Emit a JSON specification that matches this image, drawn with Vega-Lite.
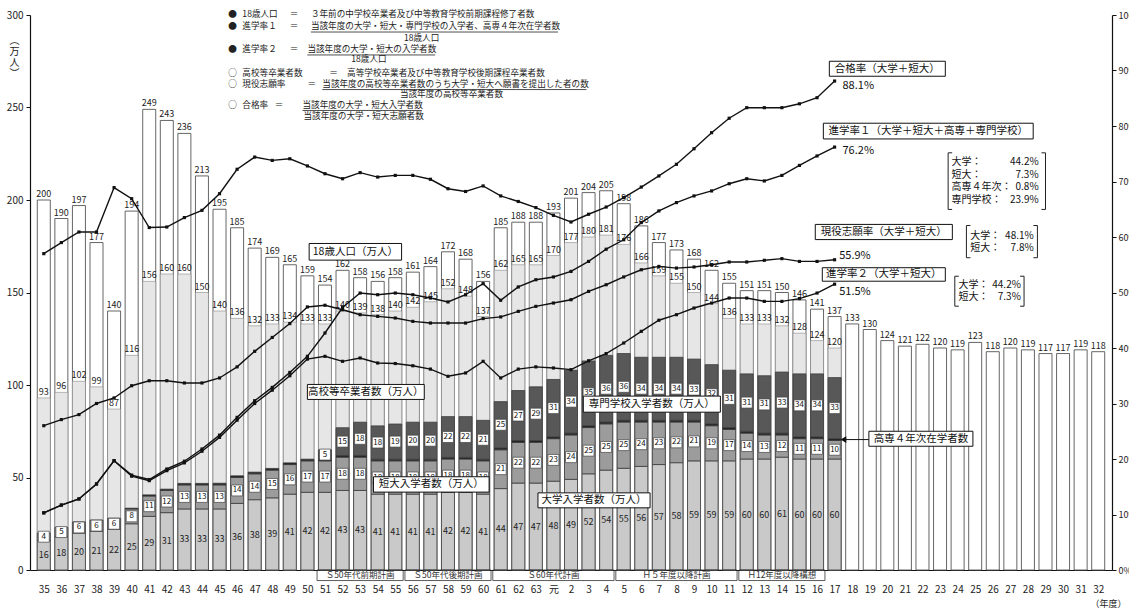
{
"$schema":"https://vega.github.io/schema/vega-lite/v6.json",
"width":1082,"height":555,
"autosize":{"type":"none"},
"padding":{"left":30,"top":15,"right":17,"bottom":38},
"background":"white",
"config":{"font":"Noto Sans CJK JP","view":{"stroke":null},"axis":{"grid":false,"domainColor":"#111","tickColor":"#111","labelColor":"#222","labelFont":"Noto Sans CJK JP","titleFont":"Noto Sans CJK JP","titleColor":"#222"},"text":{"font":"Noto Sans CJK JP"}},
"datasets":{
"main":[
{"year":1960,"pop":200,"hs":93,"bachelor":16,"junior":4,"kosen":0},
{"year":1961,"pop":190,"hs":96,"bachelor":18,"junior":5,"kosen":0},
{"year":1962,"pop":197,"hs":102,"bachelor":20,"junior":6,"kosen":0},
{"year":1963,"pop":177,"hs":99,"bachelor":21,"junior":6,"kosen":0},
{"year":1964,"pop":140,"hs":87,"bachelor":22,"junior":6,"kosen":0},
{"year":1965,"pop":194,"hs":116,"bachelor":25,"junior":8,"kosen":0.4},
{"year":1966,"pop":249,"hs":156,"bachelor":29,"junior":11,"kosen":0.6},
{"year":1967,"pop":243,"hs":160,"bachelor":31,"junior":12,"kosen":0.7},
{"year":1968,"pop":236,"hs":160,"bachelor":33,"junior":13,"kosen":0.8},
{"year":1969,"pop":213,"hs":150,"bachelor":33,"junior":13,"kosen":0.8},
{"year":1970,"pop":195,"hs":140,"bachelor":33,"junior":13,"kosen":0.9},
{"year":1971,"pop":185,"hs":136,"bachelor":36,"junior":14,"kosen":0.9},
{"year":1972,"pop":174,"hs":132,"bachelor":38,"junior":14,"kosen":0.9},
{"year":1973,"pop":169,"hs":133,"bachelor":39,"junior":15,"kosen":0.9},
{"year":1974,"pop":165,"hs":134,"bachelor":41,"junior":16,"kosen":0.9},
{"year":1975,"pop":159,"hs":133,"bachelor":42,"junior":17,"kosen":0.9},
{"year":1976,"pop":154,"hs":133,"bachelor":42,"junior":17,"kosen":0.9,"senmon":5},
{"year":1977,"pop":162,"hs":140,"bachelor":43,"junior":18,"kosen":0.9,"senmon":15},
{"year":1978,"pop":158,"hs":139,"bachelor":43,"junior":18,"kosen":0.9,"senmon":18},
{"year":1979,"pop":156,"hs":138,"bachelor":41,"junior":18,"kosen":0.9,"senmon":18},
{"year":1980,"pop":158,"hs":140,"bachelor":41,"junior":18,"kosen":0.9,"senmon":19},
{"year":1981,"pop":161,"hs":142,"bachelor":41,"junior":18,"kosen":0.9,"senmon":20},
{"year":1982,"pop":164,"hs":145,"bachelor":41,"junior":18,"kosen":0.9,"senmon":20},
{"year":1983,"pop":172,"hs":152,"bachelor":42,"junior":18,"kosen":0.9,"senmon":22},
{"year":1984,"pop":168,"hs":148,"bachelor":42,"junior":18,"kosen":0.9,"senmon":22},
{"year":1985,"pop":156,"hs":137,"bachelor":41,"junior":18,"kosen":0.9,"senmon":21},
{"year":1986,"pop":185,"hs":162,"bachelor":44,"junior":21,"kosen":1,"senmon":25},
{"year":1987,"pop":188,"hs":165,"bachelor":47,"junior":22,"kosen":1,"senmon":27},
{"year":1988,"pop":188,"hs":165,"bachelor":47,"junior":22,"kosen":1,"senmon":29},
{"year":1989,"pop":193,"hs":170,"bachelor":48,"junior":23,"kosen":1,"senmon":31},
{"year":1990,"pop":201,"hs":177,"bachelor":49,"junior":24,"kosen":1,"senmon":34},
{"year":1991,"pop":204,"hs":180,"bachelor":52,"junior":25,"kosen":1,"senmon":35},
{"year":1992,"pop":205,"hs":181,"bachelor":54,"junior":25,"kosen":1,"senmon":36},
{"year":1993,"pop":198,"hs":176,"bachelor":55,"junior":25,"kosen":1,"senmon":36},
{"year":1994,"pop":186,"hs":166,"bachelor":56,"junior":24,"kosen":1,"senmon":34},
{"year":1995,"pop":177,"hs":159,"bachelor":57,"junior":23,"kosen":1,"senmon":34},
{"year":1996,"pop":173,"hs":155,"bachelor":58,"junior":22,"kosen":1,"senmon":34},
{"year":1997,"pop":168,"hs":150,"bachelor":59,"junior":21,"kosen":1,"senmon":33},
{"year":1998,"pop":162,"hs":144,"bachelor":59,"junior":19,"kosen":1,"senmon":32},
{"year":1999,"pop":155,"hs":136,"bachelor":59,"junior":17,"kosen":1,"senmon":31},
{"year":2000,"pop":151,"hs":133,"bachelor":60,"junior":14,"kosen":1,"senmon":31},
{"year":2001,"pop":151,"hs":133,"bachelor":60,"junior":13,"kosen":1,"senmon":31},
{"year":2002,"pop":150,"hs":132,"bachelor":61,"junior":12,"kosen":1,"senmon":33},
{"year":2003,"pop":146,"hs":128,"bachelor":60,"junior":11,"kosen":1,"senmon":34},
{"year":2004,"pop":141,"hs":124,"bachelor":60,"junior":11,"kosen":1,"senmon":34},
{"year":2005,"pop":137,"hs":120,"bachelor":60,"junior":10,"kosen":1,"senmon":33},
{"year":2006,"pop":133},{"year":2007,"pop":130},{"year":2008,"pop":124},{"year":2009,"pop":121},{"year":2010,"pop":122},
{"year":2011,"pop":120},{"year":2012,"pop":119},{"year":2013,"pop":123},{"year":2014,"pop":118},{"year":2015,"pop":120},
{"year":2016,"pop":119},{"year":2017,"pop":117},{"year":2018,"pop":117},{"year":2019,"pop":119},{"year":2020,"pop":118}
],
"rates":[
{"year":1960,"goukaku":57.0,"shingaku1":10.3,"shigan":26.0,"shingaku2":10.3},
{"year":1961,"goukaku":59.0,"shingaku1":11.7,"shigan":27.1,"shingaku2":11.7},
{"year":1962,"goukaku":60.9,"shingaku1":12.8,"shigan":28.0,"shingaku2":12.8},
{"year":1963,"goukaku":60.9,"shingaku1":15.5,"shigan":30.0,"shingaku2":15.5},
{"year":1964,"goukaku":68.9,"shingaku1":19.7,"shigan":31.0,"shingaku2":19.7},
{"year":1965,"goukaku":66.9,"shingaku1":17.1,"shigan":33.2,"shingaku2":16.9},
{"year":1966,"goukaku":61.7,"shingaku1":16.3,"shigan":34.1,"shingaku2":16.1},
{"year":1967,"goukaku":61.8,"shingaku1":18.2,"shigan":34.1,"shingaku2":17.9},
{"year":1968,"goukaku":63.5,"shingaku1":19.6,"shigan":33.7,"shingaku2":19.3},
{"year":1969,"goukaku":64.8,"shingaku1":21.8,"shigan":33.7,"shingaku2":21.4},
{"year":1970,"goukaku":67.8,"shingaku1":24.3,"shigan":34.6,"shingaku2":23.9},
{"year":1971,"goukaku":72.2,"shingaku1":27.5,"shigan":36.6,"shingaku2":27.0},
{"year":1972,"goukaku":74.4,"shingaku1":30.5,"shigan":39.4,"shingaku2":30.0},
{"year":1973,"goukaku":73.8,"shingaku1":32.9,"shigan":41.9,"shingaku2":32.4},
{"year":1974,"goukaku":74.1,"shingaku1":35.6,"shigan":44.4,"shingaku2":35.0},
{"year":1975,"goukaku":72.8,"shingaku1":38.5,"shigan":47.4,"shingaku2":38.0},
{"year":1976,"goukaku":71.4,"shingaku1":42.7,"shigan":47.7,"shingaku2":38.5},
{"year":1977,"goukaku":70.5,"shingaku1":47.3,"shigan":46.9,"shingaku2":37.6},
{"year":1978,"goukaku":71.6,"shingaku1":49.9,"shigan":46.0,"shingaku2":38.2},
{"year":1979,"goukaku":70.8,"shingaku1":49.6,"shigan":45.7,"shingaku2":37.3},
{"year":1980,"goukaku":71.1,"shingaku1":49.9,"shigan":45.4,"shingaku2":37.2},
{"year":1981,"goukaku":71.1,"shingaku1":49.6,"shigan":44.8,"shingaku2":36.8},
{"year":1982,"goukaku":70.4,"shingaku1":49.0,"shigan":44.5,"shingaku2":36.2},
{"year":1983,"goukaku":68.7,"shingaku1":48.3,"shigan":44.5,"shingaku2":34.9},
{"year":1984,"goukaku":68.2,"shingaku1":49.6,"shigan":44.5,"shingaku2":35.5},
{"year":1985,"goukaku":69.2,"shingaku1":51.6,"shigan":45.3,"shingaku2":37.6},
{"year":1986,"goukaku":67.4,"shingaku1":48.6,"shigan":45.6,"shingaku2":34.6},
{"year":1987,"goukaku":66.4,"shingaku1":51.0,"shigan":46.6,"shingaku2":36.2},
{"year":1988,"goukaku":65.3,"shingaku1":52.3,"shigan":47.5,"shingaku2":36.6},
{"year":1989,"goukaku":63.9,"shingaku1":52.8,"shigan":48.1,"shingaku2":36.4},
{"year":1990,"goukaku":62.7,"shingaku1":53.8,"shigan":48.7,"shingaku2":36.1},
{"year":1991,"goukaku":64.1,"shingaku1":55.6,"shigan":50.2,"shingaku2":37.7},
{"year":1992,"goukaku":65.4,"shingaku1":57.8,"shigan":51.4,"shingaku2":39.0},
{"year":1993,"goukaku":67.1,"shingaku1":59.5,"shigan":52.8,"shingaku2":40.9},
{"year":1994,"goukaku":69.0,"shingaku1":62.6,"shigan":54.1,"shingaku2":43.0},
{"year":1995,"goukaku":71.0,"shingaku1":64.7,"shigan":54.7,"shingaku2":45.0},
{"year":1996,"goukaku":73.1,"shingaku1":66.2,"shigan":54.4,"shingaku2":46.0},
{"year":1997,"goukaku":75.9,"shingaku1":67.4,"shigan":54.6,"shingaku2":47.2},
{"year":1998,"goukaku":78.8,"shingaku1":68.3,"shigan":55.0,"shingaku2":48.1},
{"year":1999,"goukaku":81.4,"shingaku1":69.6,"shigan":55.5,"shingaku2":49.0},
{"year":2000,"goukaku":83.3,"shingaku1":70.5,"shigan":55.5,"shingaku2":49.0},
{"year":2001,"goukaku":83.3,"shingaku1":70.1,"shigan":55.8,"shingaku2":48.4},
{"year":2002,"goukaku":83.3,"shingaku1":71.1,"shigan":56.1,"shingaku2":48.4},
{"year":2003,"goukaku":84.0,"shingaku1":72.9,"shigan":55.6,"shingaku2":48.9},
{"year":2004,"goukaku":85.1,"shingaku1":74.6,"shigan":55.6,"shingaku2":49.9},
{"year":2005,"goukaku":88.1,"shingaku1":76.2,"shigan":55.9,"shingaku2":51.5}
],
"plans":[
{"label":"Ｓ50年代前期計画","start":1975.55,"end":1980.45},
{"label":"Ｓ50年代後期計画","start":1980.55,"end":1985.45},
{"label":"Ｓ60年代計画","start":1985.55,"end":1992.45},
{"label":"Ｈ５年度以降計画","start":1992.55,"end":1999.45},
{"label":"Ｈ12年度以降構想","start":1999.55,"end":2004.45}
],
"boxes":[
{"label":"18歳人口（万人）","x1":1975.1,"x2":1980.36,"y1":176.5,"y2":167.5},
{"label":"高校等卒業者数（万人）","x1":1975.0,"x2":1981.65,"y1":100.3,"y2":92.2},
{"label":"短大入学者数（万人）","x1":1978.76,"x2":1985.34,"y1":50.4,"y2":42.1},
{"label":"大学入学者数（万人）","x1":1988.12,"x2":1994.5,"y1":41.7,"y2":33.6},
{"label":"専門学校入学者数（万人）","x1":1990.7,"x2":1998.5,"y1":94.0,"y2":85.3},
{"label":"高専４年次在学者数","x1":2006.95,"x2":2012.87,"y1":75.0,"y2":66.9},
{"label":"合格率（大学＋短大）","x1":2004.7,"x2":2011.3,"y1":275.0,"y2":266.9},
{"label":"進学率１（大学＋短大＋高専＋専門学校）","x1":2004.36,"x2":2016.3,"y1":241.5,"y2":233.0},
{"label":"現役志願率（大学＋短大）","x1":2003.9,"x2":2011.7,"y1":186.8,"y2":178.6},
{"label":"進学率２（大学＋短大）","x1":2004.3,"x2":2011.3,"y1":163.4,"y2":156.1}
],
"pointers":[{"x1":2005.5,"x2":2006.95,"y":70.5}],
"underlines":[
{"x1":1975.2,"x2":1989.26,"y":290.8},
{"x1":1975.0,"x2":1982.27,"y":278.4},
{"x1":1975.85,"x2":1990.88,"y":259.7},
{"x1":1974.72,"x2":1981.51,"y":248.4}
],
"brackets":[
{"x1":2011.46,"x2":2017.0,"y1":225.5,"y2":194.9},
{"x1":2012.5,"x2":2016.54,"y1":186.2,"y2":168.8},
{"x1":2011.84,"x2":2015.78,"y1":158.8,"y2":142.6}
],
"texts":[
{"t":"●","x":1970.5,"y":300.8,"g":"def"},
{"t":"18歳人口","x":1971.3,"y":300.8,"g":"def"},
{"t":"＝","x":1974.0,"y":300.8,"g":"def"},
{"t":"３年前の中学校卒業者及び中等教育学校前期課程修了者数","x":1975.2,"y":300.8,"g":"def"},
{"t":"●","x":1970.5,"y":293.8,"g":"def"},
{"t":"進学率１","x":1971.3,"y":293.8,"g":"def"},
{"t":"＝","x":1974.0,"y":293.8,"g":"def"},
{"t":"当該年度の大学・短大・専門学校の入学者、高専４年次在学者数","x":1975.2,"y":293.8,"g":"def"},
{"t":"18歳人口","x":1981.5,"y":287.8,"g":"den"},
{"t":"●","x":1970.5,"y":281.4,"g":"def"},
{"t":"進学率２","x":1971.3,"y":281.4,"g":"def"},
{"t":"＝","x":1974.0,"y":281.4,"g":"def"},
{"t":"当該年度の大学・短大の入学者数","x":1975.0,"y":281.4,"g":"def"},
{"t":"18歳人口","x":1978.5,"y":276.0,"g":"den"},
{"t":"○","x":1970.5,"y":268.9,"g":"def"},
{"t":"高校等卒業者数","x":1971.3,"y":268.9,"g":"def"},
{"t":"＝","x":1976.24,"y":268.9,"g":"def"},
{"t":"高等学校卒業者及び中等教育学校後期課程卒業者数","x":1977.26,"y":268.9,"g":"def"},
{"t":"○","x":1970.5,"y":262.7,"g":"def"},
{"t":"現役志願率","x":1971.3,"y":262.7,"g":"def"},
{"t":"＝","x":1975.0,"y":262.7,"g":"def"},
{"t":"当該年度の高校等卒業者数のうち大学・短大へ願書を提出した者の数","x":1975.85,"y":262.7,"g":"def"},
{"t":"当該年度の高校等卒業者数","x":1983.2,"y":257.3,"g":"den"},
{"t":"○","x":1970.5,"y":251.4,"g":"def"},
{"t":"合格率","x":1971.3,"y":251.4,"g":"def"},
{"t":"＝","x":1973.14,"y":251.4,"g":"def"},
{"t":"当該年度の大学・短大入学者数","x":1974.72,"y":251.4,"g":"def"},
{"t":"当該年度の大学・短大志願者数","x":1978.2,"y":245.4,"g":"den"},
{"t":"88.1%","x":2005.45,"y":261.5,"g":"pct"},
{"t":"76.2%","x":2005.45,"y":226.4,"g":"pct"},
{"t":"55.9%","x":2005.26,"y":169.6,"g":"pct"},
{"t":"51.5%","x":2005.26,"y":150.2,"g":"pct"},
{"t":"大学：","x":2011.65,"y":220.4,"g":"sideL"},
{"t":"短大：","x":2011.65,"y":213.6,"g":"sideL"},
{"t":"高専４年次：","x":2011.65,"y":206.8,"g":"sideL"},
{"t":"専門学校：","x":2011.65,"y":199.9,"g":"sideL"},
{"t":"44.2%","x":2016.61,"y":220.4,"g":"sideR"},
{"t":"7.3%","x":2016.61,"y":213.6,"g":"sideR"},
{"t":"0.8%","x":2016.61,"y":206.8,"g":"sideR"},
{"t":"23.9%","x":2016.61,"y":199.9,"g":"sideR"},
{"t":"大学：","x":2012.72,"y":180.8,"g":"sideL"},
{"t":"短大：","x":2012.72,"y":173.8,"g":"sideL"},
{"t":"48.1%","x":2016.33,"y":180.8,"g":"sideR"},
{"t":"7.8%","x":2016.33,"y":173.8,"g":"sideR"},
{"t":"大学：","x":2012.05,"y":154.2,"g":"sideL"},
{"t":"短大：","x":2012.05,"y":147.3,"g":"sideL"},
{"t":"44.2%","x":2015.6,"y":154.2,"g":"sideR"},
{"t":"7.3%","x":2015.6,"y":147.3,"g":"sideR"}
]
},
"resolve":{"scale":{"y":"independent"},"axis":{"x":"independent","y":"independent"}},
"layer":[
{"resolve":{"axis":{"x":"independent","y":"independent"}},
"layer":[
{"data":{"name":"main"},
 "mark":{"type":"bar","width":13,"fill":"white","stroke":"#555","strokeWidth":0.9},
 "encoding":{
  "x":{"field":"year","type":"quantitative","scale":{"domain":[1959.5,2020.5],"nice":false,"zero":false},
   "axis":{"values":[1960,1961,1962,1963,1964,1965,1966,1967,1968,1969,1970,1971,1972,1973,1974,1975,1976,1977,1978,1979,1980,1981,1982,1983,1984,1985,1986,1987,1988,1989,1990,1991,1992,1993,1994,1995,1996,1997,1998,1999,2000,2001,2002,2003,2004,2005,2006,2007,2008,2009,2010,2011,2012,2013,2014,2015,2016,2017,2018,2019,2020],
    "labelExpr":"datum.value <= 1988 ? '' + (datum.value - 1925) : (datum.value == 1989 ? '元' : '' + (datum.value - 1988))",
    "ticks":false,"labelPadding":14,"labelFontSize":10,"labelOverlap":false,"labelFlush":false,"domainWidth":1.2,
    "title":"（年度）","titleFontSize":9,"titleFontWeight":"normal","titleAnchor":"end","titleAlign":"right","titleX":1096,"titleY":33,"titleBaseline":"middle"}},
  "y":{"field":"pop","type":"quantitative","scale":{"domain":[0,300],"nice":false},
   "axis":{"values":[0,50,100,150,200,250,300],"labelFontSize":10,"tickSize":4,"labelPadding":3,"domainWidth":1.2,
    "title":["︵","万","人","︶"],"titleAngle":0,"titleX":-16,"titleY":20,"titleAlign":"center","titleBaseline":"top","titleFontSize":10,"titleFontWeight":"normal","titleLineHeight":11}}}},
{"data":{"name":"main"},
 "mark":{"type":"bar","width":13,"fill":"#e6e6e6","stroke":"#8a8a8a","strokeWidth":0.6},
 "encoding":{
  "x":{"field":"year","type":"quantitative","scale":{"domain":[1959.5,2020.5],"nice":false,"zero":false},"axis":null},
  "y":{"field":"hs","type":"quantitative","scale":{"domain":[0,300],"nice":false},"axis":null}}},
{"data":{"name":"main"},
 "transform":[{"fold":["bachelor","junior","kosen","senmon"],"as":["seg","v"]},{"filter":{"field":"v","gt":0}},
  {"stack":"v","groupby":["year"],"sort":[{"field":"seg","order":"ascending"}],"as":["v0","v1"]}],
 "mark":{"type":"bar","width":13,"stroke":"#3c3c3c","strokeWidth":0.8},
 "encoding":{
  "x":{"field":"year","type":"quantitative","scale":{"domain":[1959.5,2020.5],"nice":false,"zero":false},"axis":null},
  "y":{"field":"v1","type":"quantitative","stack":null,"scale":{"domain":[0,300],"nice":false},"axis":null},
  "y2":{"field":"v0"},
  "fill":{"field":"seg","type":"nominal","scale":{"domain":["bachelor","junior","kosen","senmon"],"range":["#c9c9c9","#9c9c9c","#222222","#585858"]},"legend":null}}},
{"data":{"name":"main"},
 "mark":{"type":"text","fontSize":9,"baseline":"alphabetic","dy":-3,"color":"#222"},
 "encoding":{
  "x":{"field":"year","type":"quantitative","scale":{"domain":[1959.5,2020.5],"nice":false,"zero":false},"axis":null},
  "y":{"field":"pop","type":"quantitative","scale":{"domain":[0,300],"nice":false},"axis":null},
  "text":{"field":"pop"}}},
{"data":{"name":"main"},
 "mark":{"type":"text","fontSize":9,"baseline":"alphabetic","dy":-3,"color":"#222"},
 "encoding":{
  "x":{"field":"year","type":"quantitative","scale":{"domain":[1959.5,2020.5],"nice":false,"zero":false},"axis":null},
  "y":{"field":"hs","type":"quantitative","scale":{"domain":[0,300],"nice":false},"axis":null},
  "text":{"field":"hs"}}},
{"data":{"name":"main"},
 "transform":[{"fold":["bachelor","junior","kosen","senmon"],"as":["seg","v"]},{"filter":{"field":"v","gt":0}},
  {"stack":"v","groupby":["year"],"sort":[{"field":"seg","order":"ascending"}],"as":["v0","v1"]},
  {"filter":{"field":"seg","equal":"bachelor"}},
  {"fold":["v0","v1"],"as":["edge","pos"]},
  {"aggregate":[{"op":"mean","field":"pos","as":"mid"}],"groupby":["year","seg","v"]}],
 "mark":{"type":"text","fontSize":9,"color":"#222","baseline":"middle"},
 "encoding":{
  "x":{"field":"year","type":"quantitative","scale":{"domain":[1959.5,2020.5],"nice":false,"zero":false},"axis":null},
  "y":{"field":"mid","type":"quantitative","scale":{"domain":[0,300],"nice":false},"axis":null},
  "text":{"field":"v"}}},
{"data":{"name":"main"},
 "transform":[{"fold":["bachelor","junior","kosen","senmon"],"as":["seg","v"]},{"filter":{"field":"v","gt":0}},
  {"stack":"v","groupby":["year"],"sort":[{"field":"seg","order":"ascending"}],"as":["v0","v1"]},
  {"filter":{"field":"seg","oneOf":["junior","senmon"]}},
  {"fold":["v0","v1"],"as":["edge","pos"]},
  {"aggregate":[{"op":"mean","field":"pos","as":"mid"}],"groupby":["year","seg","v"]}],
 "layer":[
  {"mark":{"type":"point","shape":"square","size":120,"filled":true,"fill":"white","stroke":"#444","strokeWidth":0.7,"opacity":1}},
  {"mark":{"type":"text","fontSize":8,"color":"#111","baseline":"middle"},"encoding":{"text":{"field":"v"}}}
 ],
 "encoding":{
  "x":{"field":"year","type":"quantitative","scale":{"domain":[1959.5,2020.5],"nice":false,"zero":false},"axis":null},
  "y":{"field":"mid","type":"quantitative","scale":{"domain":[0,300],"nice":false},"axis":null}}}
]},
{"resolve":{"axis":{"x":"independent","y":"independent"}},
"layer":[
{"data":{"name":"rates"},
 "transform":[{"fold":["goukaku","shingaku1","shigan","shingaku2"],"as":["series","rate"]}],
 "mark":{"type":"line","color":"#111","strokeWidth":1.4},
 "encoding":{
  "x":{"field":"year","type":"quantitative","scale":{"domain":[1959.5,2020.5],"nice":false,"zero":false},"axis":null},
  "y":{"field":"rate","type":"quantitative","scale":{"domain":[0,100],"nice":false},
   "axis":{"orient":"right","values":[0,10,20,30,40,50,60,70,80,90,100],"labelExpr":"datum.value + '%'","labelFontSize":9,"tickSize":4,"labelPadding":2,"title":null,"domainWidth":1.2}},
  "detail":{"field":"series","type":"nominal"}}},
{"data":{"name":"rates"},
 "transform":[{"fold":["goukaku","shingaku1","shigan","shingaku2"],"as":["series","rate"]}],
 "mark":{"type":"point","shape":"square","size":10,"filled":true,"color":"#111","opacity":1},
 "encoding":{
  "x":{"field":"year","type":"quantitative","scale":{"domain":[1959.5,2020.5],"nice":false,"zero":false},"axis":null},
  "y":{"field":"rate","type":"quantitative","scale":{"domain":[0,100],"nice":false},"axis":null},
  "detail":{"field":"series","type":"nominal"}}}
]},
{"resolve":{"axis":{"x":"independent","y":"independent"}},
"layer":[
{"data":{"name":"plans"},
 "mark":{"type":"rect","fillOpacity":0,"stroke":"#333","strokeWidth":0.8},
 "encoding":{
  "x":{"field":"start","type":"quantitative","scale":{"domain":[1959.5,2020.5],"nice":false,"zero":false},"axis":null},
  "x2":{"field":"end"},
  "y":{"datum":0,"type":"quantitative","scale":{"domain":[0,300],"nice":false},"axis":null},
  "y2":{"datum":-5.7}}},
{"data":{"name":"plans"},
 "transform":[{"fold":["start","end"],"as":["k","xv"]},{"aggregate":[{"op":"mean","field":"xv","as":"mx"}],"groupby":["label"]}],
 "mark":{"type":"text","fontSize":8.5,"color":"#333","baseline":"middle"},
 "encoding":{
  "x":{"field":"mx","type":"quantitative","scale":{"domain":[1959.5,2020.5],"nice":false,"zero":false},"axis":null},
  "y":{"datum":-2.7,"type":"quantitative","scale":{"domain":[0,300],"nice":false},"axis":null},
  "text":{"field":"label"}}},
{"data":{"name":"pointers"},
 "mark":{"type":"rule","color":"#111","strokeWidth":1},
 "encoding":{
  "x":{"field":"x1","type":"quantitative","scale":{"domain":[1959.5,2020.5],"nice":false,"zero":false},"axis":null},
  "x2":{"field":"x2"},
  "y":{"field":"y","type":"quantitative","scale":{"domain":[0,300],"nice":false},"axis":null}}},
{"data":{"name":"pointers"},
 "mark":{"type":"point","shape":"triangle-left","size":45,"filled":true,"color":"#111","opacity":1},
 "encoding":{
  "x":{"field":"x1","type":"quantitative","scale":{"domain":[1959.5,2020.5],"nice":false,"zero":false},"axis":null},
  "y":{"field":"y","type":"quantitative","scale":{"domain":[0,300],"nice":false},"axis":null}}},
{"data":{"name":"boxes"},
 "mark":{"type":"rect","fill":"white","stroke":"#111","strokeWidth":1},
 "encoding":{
  "x":{"field":"x1","type":"quantitative","scale":{"domain":[1959.5,2020.5],"nice":false,"zero":false},"axis":null},
  "x2":{"field":"x2"},
  "y":{"field":"y1","type":"quantitative","scale":{"domain":[0,300],"nice":false},"axis":null},
  "y2":{"field":"y2"}}},
{"data":{"name":"boxes"},
 "transform":[{"fold":["x1","x2"],"as":["kx","xv"]},{"aggregate":[{"op":"mean","field":"xv","as":"mx"}],"groupby":["label","y1","y2"]},
  {"fold":["y1","y2"],"as":["ky","yv"]},{"aggregate":[{"op":"mean","field":"yv","as":"my"}],"groupby":["label","mx"]}],
 "mark":{"type":"text","fontSize":10.5,"color":"#111","baseline":"middle","align":"center"},
 "encoding":{
  "x":{"field":"mx","type":"quantitative","scale":{"domain":[1959.5,2020.5],"nice":false,"zero":false},"axis":null},
  "y":{"field":"my","type":"quantitative","scale":{"domain":[0,300],"nice":false},"axis":null},
  "text":{"field":"label"}}},
{"data":{"name":"underlines"},
 "mark":{"type":"rule","color":"#222","strokeWidth":0.8},
 "encoding":{
  "x":{"field":"x1","type":"quantitative","scale":{"domain":[1959.5,2020.5],"nice":false,"zero":false},"axis":null},
  "x2":{"field":"x2"},
  "y":{"field":"y","type":"quantitative","scale":{"domain":[0,300],"nice":false},"axis":null}}},
{"data":{"name":"brackets"},
 "mark":{"type":"rule","color":"#222","strokeWidth":1},
 "encoding":{
  "x":{"field":"x1","type":"quantitative","scale":{"domain":[1959.5,2020.5],"nice":false,"zero":false},"axis":null},
  "y":{"field":"y1","type":"quantitative","scale":{"domain":[0,300],"nice":false},"axis":null},
  "y2":{"field":"y2"}}},
{"data":{"name":"brackets"},
 "mark":{"type":"rule","color":"#222","strokeWidth":1},
 "encoding":{
  "x":{"field":"x2","type":"quantitative","scale":{"domain":[1959.5,2020.5],"nice":false,"zero":false},"axis":null},
  "y":{"field":"y1","type":"quantitative","scale":{"domain":[0,300],"nice":false},"axis":null},
  "y2":{"field":"y2"}}},
{"data":{"name":"brackets"},
 "transform":[{"fold":["y1","y2"],"as":["ky","yv"]}],
 "mark":{"type":"point","shape":"M0,0H1","size":64,"filled":false,"stroke":"#222","strokeWidth":1,"opacity":1},
 "encoding":{
  "x":{"field":"x1","type":"quantitative","scale":{"domain":[1959.5,2020.5],"nice":false,"zero":false},"axis":null},
  "y":{"field":"yv","type":"quantitative","scale":{"domain":[0,300],"nice":false},"axis":null}}},
{"data":{"name":"brackets"},
 "transform":[{"fold":["y1","y2"],"as":["ky","yv"]}],
 "mark":{"type":"point","shape":"M0,0H-1","size":64,"filled":false,"stroke":"#222","strokeWidth":1,"opacity":1},
 "encoding":{
  "x":{"field":"x2","type":"quantitative","scale":{"domain":[1959.5,2020.5],"nice":false,"zero":false},"axis":null},
  "y":{"field":"yv","type":"quantitative","scale":{"domain":[0,300],"nice":false},"axis":null}}},
{"data":{"name":"texts"},
 "transform":[{"filter":{"field":"g","equal":"def"}}],
 "mark":{"type":"text","fontSize":8.6,"color":"#222","align":"left","baseline":"middle"},
 "encoding":{
  "x":{"field":"x","type":"quantitative","scale":{"domain":[1959.5,2020.5],"nice":false,"zero":false},"axis":null},
  "y":{"field":"y","type":"quantitative","scale":{"domain":[0,300],"nice":false},"axis":null},
  "text":{"field":"t"}}},
{"data":{"name":"texts"},
 "transform":[{"filter":{"field":"g","equal":"den"}}],
 "mark":{"type":"text","fontSize":8.6,"color":"#222","align":"center","baseline":"middle"},
 "encoding":{
  "x":{"field":"x","type":"quantitative","scale":{"domain":[1959.5,2020.5],"nice":false,"zero":false},"axis":null},
  "y":{"field":"y","type":"quantitative","scale":{"domain":[0,300],"nice":false},"axis":null},
  "text":{"field":"t"}}},
{"data":{"name":"texts"},
 "transform":[{"filter":{"field":"g","equal":"pct"}}],
 "mark":{"type":"text","fontSize":11,"color":"#111","align":"left","baseline":"middle"},
 "encoding":{
  "x":{"field":"x","type":"quantitative","scale":{"domain":[1959.5,2020.5],"nice":false,"zero":false},"axis":null},
  "y":{"field":"y","type":"quantitative","scale":{"domain":[0,300],"nice":false},"axis":null},
  "text":{"field":"t"}}},
{"data":{"name":"texts"},
 "transform":[{"filter":{"field":"g","equal":"sideL"}}],
 "mark":{"type":"text","fontSize":10,"color":"#111","align":"left","baseline":"middle"},
 "encoding":{
  "x":{"field":"x","type":"quantitative","scale":{"domain":[1959.5,2020.5],"nice":false,"zero":false},"axis":null},
  "y":{"field":"y","type":"quantitative","scale":{"domain":[0,300],"nice":false},"axis":null},
  "text":{"field":"t"}}},
{"data":{"name":"texts"},
 "transform":[{"filter":{"field":"g","equal":"sideR"}}],
 "mark":{"type":"text","fontSize":10,"color":"#111","align":"right","baseline":"middle"},
 "encoding":{
  "x":{"field":"x","type":"quantitative","scale":{"domain":[1959.5,2020.5],"nice":false,"zero":false},"axis":null},
  "y":{"field":"y","type":"quantitative","scale":{"domain":[0,300],"nice":false},"axis":null},
  "text":{"field":"t"}}}
]}
]
}
